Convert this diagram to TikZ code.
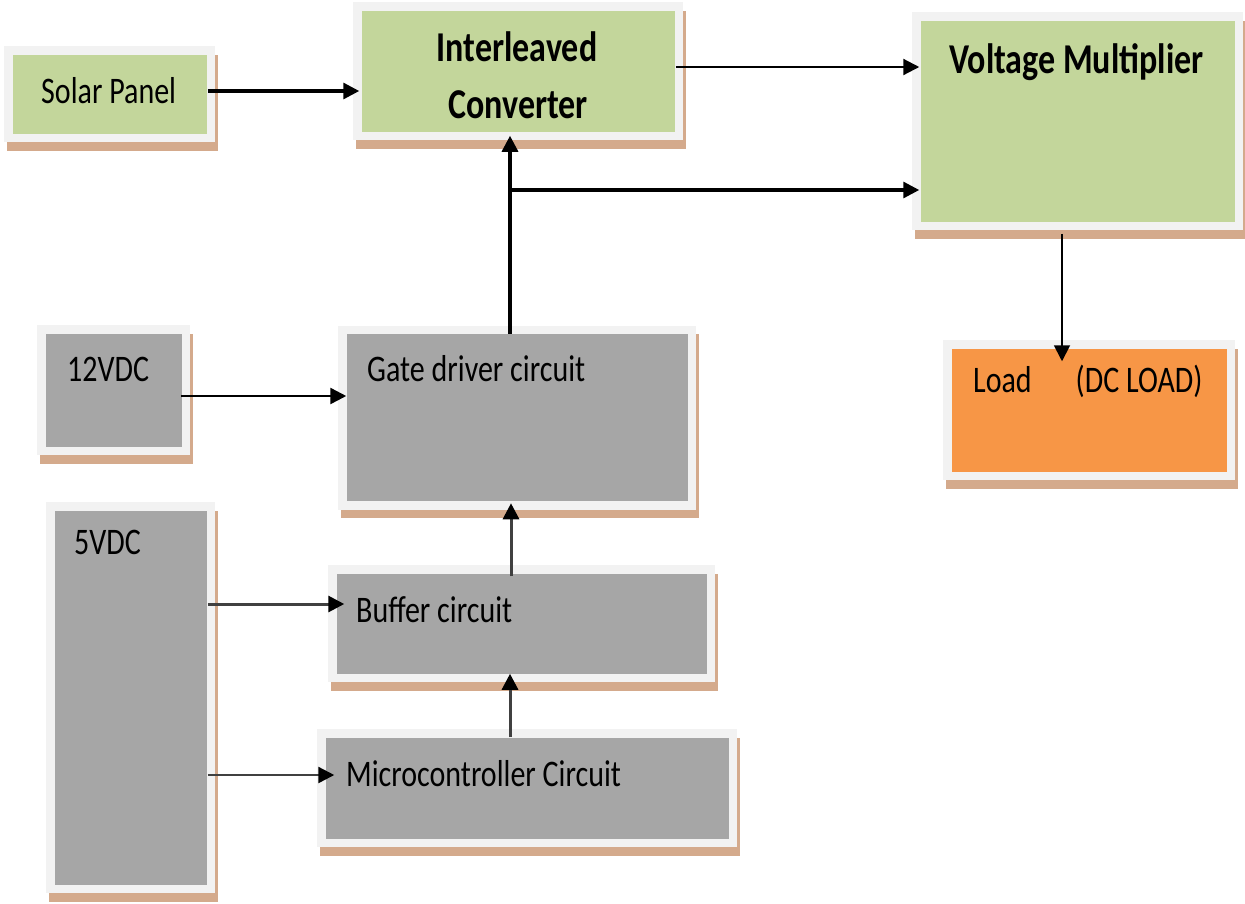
\documentclass[tikz,border=0pt]{standalone}
\usepackage{fontspec}
\setmainfont{Carlito}
\usetikzlibrary{arrows.meta,calc}
\definecolor{greenc}{HTML}{C3D69B}
\definecolor{orangec}{HTML}{F79646}
\definecolor{greyc}{HTML}{A6A6A6}
\definecolor{framec}{HTML}{F2F2F2}
\definecolor{shadowc}{HTML}{D4AA8C}
\definecolor{linegrey}{HTML}{404040}
\newcommand{\st}[1]{\scalebox{1}[1.25]{#1}}
\tikzset{
  box/.style={draw=framec, line width=8.5pt, inner sep=0pt, outer sep=0pt,
    preaction={draw=shadowc, fill=shadowc, line width=8.5pt,
      transform canvas={xshift=3pt, yshift=-8.5pt}}},
  gbox/.style={box, fill=greenc},
  obox/.style={box, fill=orangec},
  ybox/.style={box, fill=greyc},
  txt/.style={font=\fontsize{30}{36}\selectfont, inner sep=0pt, anchor=base west},
  btxt/.style={font=\fontsize{34}{40}\selectfont\bfseries, inner sep=0pt, anchor=base},
  tip/.style={-{Triangle[length=16pt,width=16pt,color=black]}},
  thk/.style={tip, line width=3.2pt},
  med/.style={tip, line width=2.2pt},
  thn/.style={tip, line width=1.8pt},
  gry/.style={tip, line width=3pt, draw=linegrey},
}
\begin{document}
\begin{tikzpicture}[x=1pt,y=-1pt]
\useasboundingbox (0,0) rectangle (1245,903);
% boxes (outer size minus frame width)
\node[gbox, minimum width=202.5pt, minimum height=87.5pt] (solar) at (109.5,94) {};
\node[gbox, minimum width=321.5pt, minimum height=129.5pt] (ic) at (518,71) {};
\node[gbox, minimum width=322.5pt, minimum height=209.5pt] (vm) at (1077.5,121) {};
\node[obox, minimum width=283.5pt, minimum height=131.5pt] (load) at (1089,410) {};
\node[ybox, minimum width=144.5pt, minimum height=121.5pt] (v12) at (113.5,390) {};
\node[ybox, minimum width=349.5pt, minimum height=175.5pt] (gate) at (517,417.5) {};
\node[ybox, minimum width=160.5pt, minimum height=382.5pt] (v5) at (130.5,697.5) {};
\node[ybox, minimum width=378.5pt, minimum height=108.5pt] (buf) at (521.5,623.5) {};
\node[ybox, minimum width=411.5pt, minimum height=109.5pt] (mcu) at (527,788) {};
% texts
\node[txt] (tsolar) at (41,103) {\st{Solar Panel}};
\node[btxt] (tic1) at (517,61) {\st{Interleaved}};
\node[btxt] (tic2) at (518,118) {\st{Converter}};
\node[btxt, anchor=base west] (tvm) at (949,73) {\st{Voltage Multiplier}};
\node[txt] (tload) at (973,392) {\st{Load\hspace{44pt}(DC LOAD)}};
\node[txt] (tv12) at (67,381) {\st{12VDC}};
\node[txt] (tgate) at (367,381) {\st{Gate driver circuit}};
\node[txt] (tv5) at (74,554) {\st{5VDC}};
\node[txt] (tbuf) at (356,622) {\st{Buffer circuit}};
\node[txt] (tmcu) at (346,786) {\st{Microcontroller Circuit}};
% connectors
\draw[thk] ([xshift=-3pt,yshift=3pt]solar.east) -- ([xshift=2pt,yshift=3pt]solar.east -| ic.west);
\draw[med] ([xshift=-3pt,yshift=4pt]ic.east) -- ([xshift=3pt,yshift=4pt]ic.east -| vm.west);
\draw[thk] ([xshift=-7pt,yshift=-4pt]gate.north) -- ([xshift=-7pt]gate.north |- ic.south);
\coordinate (br) at ([xshift=-7pt]gate.north |- 0,190);
\draw[thk] ([xshift=-1.6pt]br) -- ([xshift=3pt]br -| vm.west);
\draw[thn] ([xshift=-15.5pt,yshift=-8pt]vm.south) -- ([xshift=-15.5pt,yshift=-17pt]vm.south |- load.north);
\draw[tip, line width=2.5pt] ([xshift=-5pt,yshift=-6pt]v12.east) -- ([xshift=4pt,yshift=-6pt]v12.east -| gate.west);
\draw[gry] ([xshift=-10.5pt,yshift=-7pt]buf.north) -- ([xshift=-10.5pt,yshift=2pt]buf.north |- gate.south);
\draw[gry] ([xshift=-3pt,yshift=93.5pt]v5.east) -- ([xshift=12pt,yshift=93.5pt]v5.east -| buf.west);
\draw[gry, line width=2.4pt] ([xshift=-3pt,yshift=-77.5pt]v5.east) -- ([xshift=13pt,yshift=-77.5pt]v5.east -| mcu.west);
\draw[gry] ([xshift=-17pt,yshift=-4pt]mcu.north) -- ([xshift=-17pt,yshift=4pt]mcu.north |- buf.south);
\end{tikzpicture}
\end{document}
